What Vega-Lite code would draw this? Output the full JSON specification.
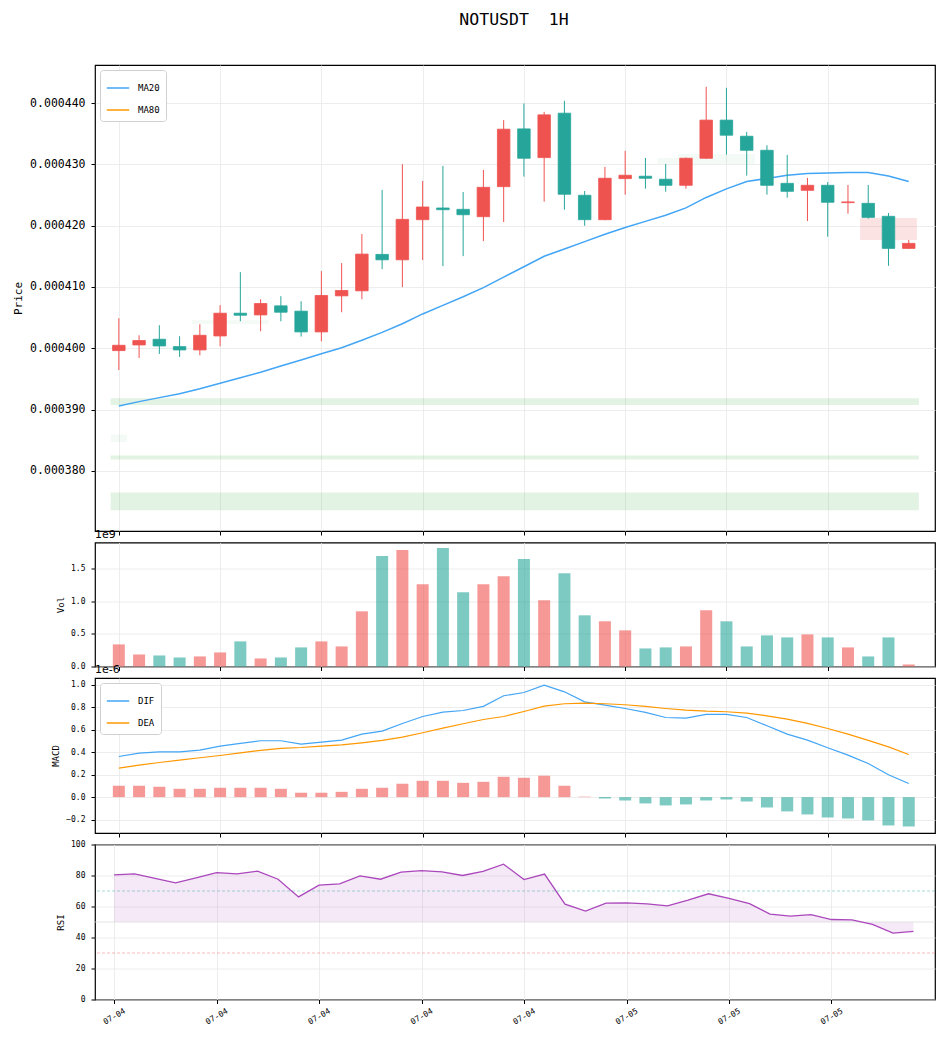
{
  "$schema": "https://vega.github.io/schema/vega-lite/v6.json",
  "background": "white",
  "padding": {"left": 12, "top": 11, "right": 8, "bottom": 5},
  "title": {"text": "NOTUSDT \u00a01H", "font": "DejaVu Sans Mono", "fontSize": 16.5, "fontWeight": "normal", "anchor": "middle", "offset": 36, "dx": 40, "color": "black"},
  "bounds": "flush",
  "spacing": 11.5,
  "config": {
    "view": {"stroke": "black", "strokeWidth": 1.2},
    "axis": {
      "domain": false,
      "gridColor": "#e8e8e8",
      "gridWidth": 0.8,
      "tickColor": "black",
      "tickSize": 4,
      "labelFont": "DejaVu Sans Mono",
      "titleFont": "DejaVu Sans Mono",
      "labelColor": "black",
      "titleColor": "black",
      "titleFontWeight": "normal",
      "labelFontSize": 8,
      "titleFontSize": 9,
      "labelPadding": 6,
      "titlePadding": 5,
      "labelOverlap": false,
      "labelSeparation": 0
    },
    "legend": {
      "orient": "top-left",
      "offset": 5,
      "fillColor": "white",
      "strokeColor": "#d0d0d0",
      "padding": 6,
      "cornerRadius": 3,
      "symbolType": "stroke",
      "symbolSize": 500,
      "symbolStrokeWidth": 1.5,
      "labelFont": "DejaVu Sans Mono",
      "labelFontSize": 9,
      "labelColor": "black",
      "rowPadding": 5,
      "labelOffset": 8
    }
  },
  "datasets": {
    "bars": [
      {"i":0,"o":0.00039962,"h":0.00040490,"l":0.00039646,"c":0.00040049,"v":338000000,"ma20":0.00039057,"dif":3.61e-7,"dea":2.58e-7,"hist":1.01e-7,"rsi":80.4},
      {"i":1,"o":0.00040054,"h":0.00040212,"l":0.00039842,"c":0.00040126,"v":184000000,"ma20":0.00039130,"dif":3.91e-7,"dea":2.84e-7,"hist":1.01e-7,"rsi":81.1},
      {"i":2,"o":0.00040147,"h":0.00040376,"l":0.00039907,"c":0.00040038,"v":169000000,"ma20":0.00039195,"dif":4.03e-7,"dea":3.08e-7,"hist":9.2e-8,"rsi":78.1},
      {"i":3,"o":0.00040027,"h":0.00040196,"l":0.00039858,"c":0.00039973,"v":138000000,"ma20":0.00039260,"dif":4.03e-7,"dea":3.29e-7,"hist":7.4e-8,"rsi":75.3},
      {"i":4,"o":0.00039973,"h":0.00040392,"l":0.00039886,"c":0.00040212,"v":154000000,"ma20":0.00039340,"dif":4.18e-7,"dea":3.50e-7,"hist":7.4e-8,"rsi":78.5},
      {"i":5,"o":0.00040201,"h":0.00040703,"l":0.00040033,"c":0.00040572,"v":215000000,"ma20":0.00039430,"dif":4.53e-7,"dea":3.70e-7,"hist":8.3e-8,"rsi":81.9},
      {"i":6,"o":0.00040572,"h":0.00041242,"l":0.00040441,"c":0.00040539,"v":384000000,"ma20":0.00039520,"dif":4.77e-7,"dea":3.94e-7,"hist":8.3e-8,"rsi":81.1},
      {"i":7,"o":0.00040544,"h":0.00040800,"l":0.00040278,"c":0.00040730,"v":123000000,"ma20":0.00039610,"dif":5.01e-7,"dea":4.15e-7,"hist":8.3e-8,"rsi":82.8},
      {"i":8,"o":0.00040692,"h":0.00040850,"l":0.00040441,"c":0.00040588,"v":138000000,"ma20":0.00039710,"dif":5.01e-7,"dea":4.33e-7,"hist":7.4e-8,"rsi":77.6},
      {"i":9,"o":0.00040605,"h":0.00040768,"l":0.00040191,"c":0.00040267,"v":292000000,"ma20":0.00039810,"dif":4.71e-7,"dea":4.41e-7,"hist":3.9e-8,"rsi":66.2},
      {"i":10,"o":0.00040267,"h":0.00041258,"l":0.00040114,"c":0.00040861,"v":384000000,"ma20":0.00039910,"dif":4.89e-7,"dea":4.53e-7,"hist":3.9e-8,"rsi":73.8},
      {"i":11,"o":0.00040855,"h":0.00041389,"l":0.00040588,"c":0.00040942,"v":307000000,"ma20":0.00040010,"dif":5.07e-7,"dea":4.65e-7,"hist":4.7e-8,"rsi":74.6},
      {"i":12,"o":0.00040937,"h":0.00041863,"l":0.00040800,"c":0.00041536,"v":844000000,"ma20":0.00040130,"dif":5.60e-7,"dea":4.83e-7,"hist":7.4e-8,"rsi":79.8},
      {"i":13,"o":0.00041531,"h":0.00042582,"l":0.00041291,"c":0.00041443,"v":1689000000,"ma20":0.00040260,"dif":5.87e-7,"dea":5.04e-7,"hist":8.3e-8,"rsi":77.6},
      {"i":14,"o":0.00041443,"h":0.00043002,"l":0.00040997,"c":0.00042103,"v":1781000000,"ma20":0.00040400,"dif":6.55e-7,"dea":5.33e-7,"hist":1.19e-7,"rsi":82.2},
      {"i":15,"o":0.00042097,"h":0.00042729,"l":0.00041438,"c":0.00042304,"v":1259000000,"ma20":0.00040560,"dif":7.17e-7,"dea":5.72e-7,"hist":1.45e-7,"rsi":83.2},
      {"i":16,"o":0.00042288,"h":0.00042974,"l":0.00041340,"c":0.00042260,"v":1812000000,"ma20":0.00040700,"dif":7.56e-7,"dea":6.13e-7,"hist":1.45e-7,"rsi":82.4},
      {"i":17,"o":0.00042266,"h":0.00042549,"l":0.00041503,"c":0.00042178,"v":1136000000,"ma20":0.00040840,"dif":7.70e-7,"dea":6.52e-7,"hist":1.27e-7,"rsi":80.0},
      {"i":18,"o":0.00042146,"h":0.00042909,"l":0.00041748,"c":0.00042625,"v":1259000000,"ma20":0.00040990,"dif":8.07e-7,"dea":6.90e-7,"hist":1.36e-7,"rsi":82.7},
      {"i":19,"o":0.00042636,"h":0.00043721,"l":0.00042059,"c":0.00043573,"v":1382000000,"ma20":0.00041160,"dif":9.01e-7,"dea":7.17e-7,"hist":1.81e-7,"rsi":87.3},
      {"i":20,"o":0.00043578,"h":0.00043992,"l":0.00042800,"c":0.00043099,"v":1643000000,"ma20":0.00041330,"dif":9.30e-7,"dea":7.61e-7,"hist":1.72e-7,"rsi":77.4},
      {"i":21,"o":0.00043110,"h":0.00043856,"l":0.00042391,"c":0.00043807,"v":1013000000,"ma20":0.00041500,"dif":9.96e-7,"dea":8.09e-7,"hist":1.90e-7,"rsi":80.9},
      {"i":22,"o":0.00043834,"h":0.00044036,"l":0.00042260,"c":0.00042512,"v":1428000000,"ma20":0.00041620,"dif":9.36e-7,"dea":8.30e-7,"hist":1.01e-7,"rsi":61.5},
      {"i":23,"o":0.00042495,"h":0.00042565,"l":0.00041998,"c":0.00042097,"v":783000000,"ma20":0.00041740,"dif":8.47e-7,"dea":8.36e-7,"hist":4e-9,"rsi":57.0},
      {"i":24,"o":0.00042097,"h":0.00042958,"l":0.00042090,"c":0.00042773,"v":691000000,"ma20":0.00041860,"dif":8.18e-7,"dea":8.30e-7,"hist":-1.2e-8,"rsi":62.2},
      {"i":25,"o":0.00042767,"h":0.00043219,"l":0.00042505,"c":0.00042822,"v":553000000,"ma20":0.00041970,"dif":7.88e-7,"dea":8.21e-7,"hist":-3.0e-8,"rsi":62.4},
      {"i":26,"o":0.00042806,"h":0.00043105,"l":0.00042603,"c":0.00042773,"v":276000000,"ma20":0.00042070,"dif":7.53e-7,"dea":8.06e-7,"hist":-5.6e-8,"rsi":61.7},
      {"i":27,"o":0.00042757,"h":0.00043007,"l":0.00042554,"c":0.00042658,"v":292000000,"ma20":0.00042170,"dif":7.08e-7,"dea":7.88e-7,"hist":-7.4e-8,"rsi":60.4},
      {"i":28,"o":0.00042658,"h":0.00043110,"l":0.00042603,"c":0.00043099,"v":307000000,"ma20":0.00042290,"dif":7.02e-7,"dea":7.73e-7,"hist":-6.5e-8,"rsi":64.1},
      {"i":29,"o":0.00043099,"h":0.00044265,"l":0.00043090,"c":0.00043721,"v":860000000,"ma20":0.00042460,"dif":7.35e-7,"dea":7.64e-7,"hist":-3.0e-8,"rsi":68.2},
      {"i":30,"o":0.00043721,"h":0.00044248,"l":0.00043159,"c":0.00043475,"v":691000000,"ma20":0.00042600,"dif":7.35e-7,"dea":7.59e-7,"hist":-2.1e-8,"rsi":65.2},
      {"i":31,"o":0.00043458,"h":0.00043529,"l":0.00042816,"c":0.00043229,"v":307000000,"ma20":0.00042720,"dif":7.08e-7,"dea":7.47e-7,"hist":-3.9e-8,"rsi":61.9},
      {"i":32,"o":0.00043229,"h":0.00043311,"l":0.00042505,"c":0.00042658,"v":476000000,"ma20":0.00042770,"dif":6.34e-7,"dea":7.23e-7,"hist":-9.2e-8,"rsi":55.1},
      {"i":33,"o":0.00042690,"h":0.00043154,"l":0.00042456,"c":0.00042560,"v":445000000,"ma20":0.00042820,"dif":5.60e-7,"dea":6.93e-7,"hist":-1.27e-7,"rsi":53.8},
      {"i":34,"o":0.00042576,"h":0.00042778,"l":0.00042075,"c":0.00042658,"v":491000000,"ma20":0.00042850,"dif":5.07e-7,"dea":6.55e-7,"hist":-1.54e-7,"rsi":54.8},
      {"i":35,"o":0.00042658,"h":0.00042712,"l":0.00041819,"c":0.00042381,"v":445000000,"ma20":0.00042860,"dif":4.39e-7,"dea":6.10e-7,"hist":-1.81e-7,"rsi":51.6},
      {"i":36,"o":0.00042375,"h":0.00042663,"l":0.00042195,"c":0.00042387,"v":292000000,"ma20":0.00042865,"dif":3.73e-7,"dea":5.60e-7,"hist":-1.90e-7,"rsi":51.4},
      {"i":37,"o":0.00042364,"h":0.00042663,"l":0.00042113,"c":0.00042135,"v":154000000,"ma20":0.00042865,"dif":2.99e-7,"dea":5.04e-7,"hist":-2.07e-7,"rsi":48.4},
      {"i":38,"o":0.00042152,"h":0.00042206,"l":0.00041345,"c":0.00041629,"v":445000000,"ma20":0.00042810,"dif":1.99e-7,"dea":4.47e-7,"hist":-2.52e-7,"rsi":42.8},
      {"i":39,"o":0.00041629,"h":0.00041765,"l":0.00041620,"c":0.00041711,"v":31000000,"ma20":0.00042720,"dif":1.21e-7,"dea":3.79e-7,"hist":-2.61e-7,"rsi":43.9}
    ],
    "zones": [
      {"x1":-0.4,"x2":39.5,"p1":0.00039074,"p2":0.00039183,"side":"demand","status":"active"},
      {"x1":-0.4,"x2":0.4,"p1":0.00038469,"p2":0.00038595,"side":"demand","status":"weak"},
      {"x1":-0.4,"x2":39.5,"p1":0.00038186,"p2":0.00038252,"side":"demand","status":"active"},
      {"x1":-0.4,"x2":39.5,"p1":0.00037358,"p2":0.00037647,"side":"demand","status":"active"},
      {"x1":3.6,"x2":7.4,"p1":0.00040392,"p2":0.00040458,"side":"demand","status":"weak"},
      {"x1":26.6,"x2":27.6,"p1":0.00043007,"p2":0.00043105,"side":"demand","status":"weak"},
      {"x1":27.6,"x2":31.4,"p1":0.00043007,"p2":0.00043170,"side":"demand","status":"weak"},
      {"x1":36.6,"x2":39.4,"p1":0.00041765,"p2":0.00042124,"side":"supply","status":"active"}
    ],
    "levels": [
      {"rsi_level": 70, "zone": "overbought"},
      {"rsi_level": 30, "zone": "oversold"}
    ],
    "mid": [{"rsi_level": 50}]
  },
  "resolve": {"scale": {"x": "independent", "y": "independent", "color": "independent", "stroke": "independent", "opacity": "independent"}, "legend": {"stroke": "independent"}},
  "vconcat": [
    {
      "width": 840,
      "height": 466,
      "encoding": {
        "x": {"field": "i", "type": "quantitative", "scale": {"domain": [-0.93, 40.05], "nice": false, "zero": false}, "axis": {"values": [0,5,10,15,20,25,30,35], "labels": false, "title": null}}
      },
      "layer": [
        {
          "data": {"name": "zones"},
          "mark": {"type": "rect"},
          "encoding": {
            "x": {"field": "x1", "type": "quantitative"},
            "x2": {"field": "x2"},
            "y": {"field": "p1", "type": "quantitative", "scale": {"domain": [0.0003702, 0.0004462], "nice": false, "zero": false}, "axis": {"values": [0.00038,0.00039,0.0004,0.00041,0.00042,0.00043,0.00044], "format": ".6f", "title": "Price", "labelFontSize": 11.5, "titleFontSize": 11, "titlePadding": 6}},
            "y2": {"field": "p2"},
            "color": {"field": "side", "type": "nominal", "scale": {"domain": ["demand", "supply"], "range": ["#4caf50", "#ef5350"]}, "legend": null},
            "opacity": {"field": "status", "type": "nominal", "scale": {"domain": ["active", "weak"], "range": [0.16, 0.06]}, "legend": null}
          }
        },
        {
          "data": {"name": "bars"},
          "mark": {"type": "line", "strokeWidth": 1.5},
          "encoding": {
            "y": {"field": "ma20", "type": "quantitative"},
            "stroke": {"datum": "MA20", "type": "nominal", "scale": {"domain": ["MA20", "MA80"], "range": ["#42a5f5", "#ff9800"]}, "legend": {"title": null}}
          }
        },
        {
          "data": {"name": "bars"},
          "mark": {"type": "rule", "strokeWidth": 1},
          "encoding": {
            "y": {"field": "l", "type": "quantitative"},
            "y2": {"field": "h"},
            "color": {"condition": {"test": "datum.c >= datum.o", "value": "#ef5350"}, "value": "#26a69a"}
          }
        },
        {
          "data": {"name": "bars"},
          "mark": {"type": "bar", "width": 12.5, "strokeWidth": 0.8},
          "encoding": {
            "y": {"field": "o", "type": "quantitative"},
            "y2": {"field": "c"},
            "color": {"condition": {"test": "datum.c >= datum.o", "value": "#ef5350"}, "value": "#26a69a"},
            "stroke": {"condition": {"test": "datum.c >= datum.o", "value": "#ef5350"}, "value": "#26a69a"}
          }
        }
      ]
    },
    {
      "width": 840,
      "height": 124,
      "title": {"text": "1e9", "anchor": "start", "frame": "group", "font": "DejaVu Sans", "fontSize": 11, "fontWeight": "normal", "offset": 3, "color": "black"},
      "data": {"name": "bars"},
      "mark": {"type": "bar", "width": 12, "opacity": 0.6},
      "encoding": {
        "x": {"field": "i", "type": "quantitative", "scale": {"domain": [-0.93, 40.05], "nice": false, "zero": false}, "axis": {"values": [0,5,10,15,20,25,30,35], "labels": false, "title": null}},
        "y": {"field": "v", "type": "quantitative", "scale": {"domain": [0, 1897000000], "nice": false}, "axis": {"values": [0, 500000000, 1000000000, 1500000000], "labelExpr": "format(datum.value / 1e9, '.1f')", "title": "Vol"}},
        "color": {"condition": {"test": "datum.c >= datum.o", "value": "#ef5350"}, "value": "#26a69a"}
      }
    },
    {
      "width": 840,
      "height": 155,
      "title": {"text": "1e-6", "anchor": "start", "frame": "group", "font": "DejaVu Sans", "fontSize": 11, "fontWeight": "normal", "offset": 3, "color": "black"},
      "data": {"name": "bars"},
      "encoding": {
        "x": {"field": "i", "type": "quantitative", "scale": {"domain": [-0.93, 40.05], "nice": false, "zero": false}, "axis": {"values": [0,5,10,15,20,25,30,35], "labels": false, "title": null}}
      },
      "layer": [
        {
          "mark": {"type": "bar", "width": 12, "opacity": 0.6},
          "encoding": {
            "y": {"field": "hist", "type": "quantitative", "scale": {"domain": [-3.19e-7, 1.059e-6], "nice": false, "zero": false}, "axis": {"values": [-2e-7, 0, 2e-7, 4e-7, 6e-7, 8e-7, 1e-6], "labelExpr": "format(datum.value * 1e6, '.1f')", "title": "MACD", "labelOverlap": false, "labelSeparation": 0}},
            "y2": {"datum": 0},
            "color": {"condition": {"test": "datum.hist >= 0", "value": "#ef5350"}, "value": "#26a69a"}
          }
        },
        {
          "mark": {"type": "line", "strokeWidth": 1.2},
          "encoding": {
            "y": {"field": "dif", "type": "quantitative", "axis": {"values": [-2e-7, 0, 2e-7, 4e-7, 6e-7, 8e-7, 1e-6], "labelExpr": "format(datum.value * 1e6, '.1f')", "title": "MACD", "labelOverlap": false, "labelSeparation": 0}},
            "stroke": {"datum": "DIF", "type": "nominal", "scale": {"domain": ["DIF", "DEA"], "range": ["#42a5f5", "#ff9800"]}, "legend": {"title": null}}
          }
        },
        {
          "mark": {"type": "line", "strokeWidth": 1.2},
          "encoding": {
            "y": {"field": "dea", "type": "quantitative", "axis": {"values": [-2e-7, 0, 2e-7, 4e-7, 6e-7, 8e-7, 1e-6], "labelExpr": "format(datum.value * 1e6, '.1f')", "title": "MACD", "labelOverlap": false, "labelSeparation": 0}},
            "stroke": {"datum": "DEA", "type": "nominal"}
          }
        }
      ]
    },
    {
      "width": 840,
      "height": 155,
      "encoding": {
        "y": {"field": "rsi", "type": "quantitative", "scale": {"domain": [0, 100], "nice": false}, "axis": {"values": [0, 20, 40, 60, 80, 100], "title": "RSI", "labelOverlap": false, "labelSeparation": 0}}
      },
      "layer": [
        {
          "data": {"name": "bars"},
          "mark": {"type": "area", "color": "#ab47bc", "opacity": 0.12},
          "encoding": {
            "x": {"field": "i", "type": "quantitative", "scale": {"domain": [-0.93, 40.05], "nice": false, "zero": false}, "axis": {"values": [0,5,10,15,20,25,30,35], "labelExpr": "datum.value <= 20 ? '07-04' : '07-05'", "labelAngle": -30, "labelAlign": "center", "labelBaseline": "middle", "labelPadding": 13, "title": null}},
            "y2": {"datum": 50}
          }
        },
        {
          "data": {"name": "mid"},
          "mark": {"type": "rule", "color": "#dcdcdc", "strokeWidth": 0.8},
          "encoding": {"y": {"field": "rsi_level", "type": "quantitative"}}
        },
        {
          "data": {"name": "levels"},
          "mark": {"type": "rule", "opacity": 0.5, "strokeWidth": 0.8, "strokeDash": [3, 2]},
          "encoding": {
            "y": {"field": "rsi_level", "type": "quantitative"},
            "color": {"field": "zone", "type": "nominal", "scale": {"domain": ["overbought", "oversold"], "range": ["#26a69a", "#ef5350"]}, "legend": null}
          }
        },
        {
          "data": {"name": "bars"},
          "mark": {"type": "line", "color": "#ab47bc", "strokeWidth": 1.3},
          "encoding": {
            "x": {"field": "i", "type": "quantitative"}
          }
        }
      ]
    }
  ]
}
